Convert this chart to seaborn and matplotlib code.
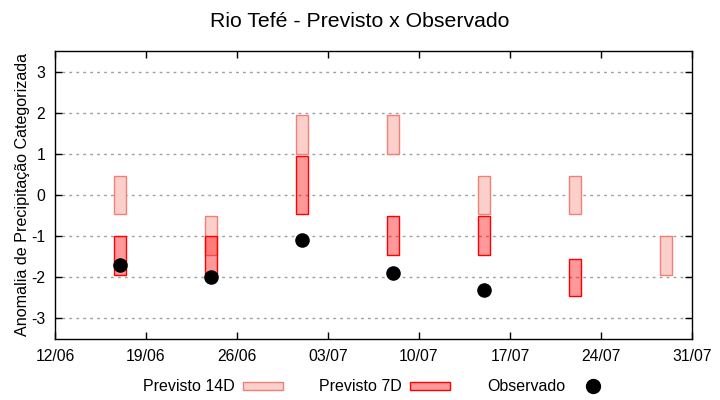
import numpy as np
import pandas as pd
import seaborn as sns
import matplotlib
matplotlib.use("Agg")
import matplotlib.pyplot as plt
import matplotlib.dates as mdates
from matplotlib.patches import Patch
from matplotlib.lines import Line2D

# ───── data ──────────────────────────────────────────────────────────────────
datas = ["2024-06-17", "2024-06-24", "2024-07-01", "2024-07-08",
         "2024-07-15", "2024-07-22", "2024-07-29"]
prev14_baixo = [-0.45, -1.45, 1.0, 1.0, -0.45, -0.45, -1.95]
prev14_alto  = [0.45, -0.5, 1.95, 1.95, 0.45, 0.45, -1.0]
prev7_baixo  = [-1.95, -1.95, -0.45, -1.45, -1.45, -2.45, np.nan]
prev7_alto   = [-1.0, -1.0, 0.95, -0.5, -0.5, -1.55, np.nan]
observado    = [-1.7, -2.0, -1.1, -1.9, -2.3, np.nan, np.nan]
xticks_lbl   = ["2024-06-12", "2024-06-19", "2024-06-26", "2024-07-03",
                "2024-07-10", "2024-07-17", "2024-07-24", "2024-07-31"]

df = pd.DataFrame({"data": pd.to_datetime(datas),
                   "p14_lo": prev14_baixo, "p14_hi": prev14_alto,
                   "p7_lo": prev7_baixo, "p7_hi": prev7_alto,
                   "obs": observado})

# ───── plot ──────────────────────────────────────────────────────────────────
sns.set_style("white")
plt.rcParams["font.family"] = ["Liberation Sans", "DejaVu Sans"]
plt.rcParams["axes.unicode_minus"] = False
plt.rcParams["text.color"] = "black"
plt.rcParams["axes.labelcolor"] = "black"

fig = plt.figure(figsize=(7.2, 4), dpi=100)
ax = fig.add_axes([0.0764, 0.1525, 0.8847, 0.72])

c14_face, c14_edge = "#fcd0ca", "#f08078"
c7_face, c7_edge = (1, 0, 0, 0.4), "red"

ax.bar(df["data"], df["p14_hi"] - df["p14_lo"], bottom=df["p14_lo"], width=0.95,
       color=c14_face, edgecolor=c14_edge, linewidth=1, zorder=2)
ax.bar(df["data"], df["p7_hi"] - df["p7_lo"], bottom=df["p7_lo"], width=0.95,
       color=c7_face, edgecolor=c7_edge, linewidth=1, zorder=3)
sns.scatterplot(data=df, x="data", y="obs", ax=ax, color="black", s=110,
                edgecolor="black", linewidth=0, zorder=4, legend=False)

ax.set_ylim(-3.5, 3.5)
ax.set_yticks(range(-3, 4))
ticks = pd.to_datetime(xticks_lbl)
ax.set_xlim(ticks[0], ticks[-1])
ax.set_xticks(ticks)
ax.xaxis.set_major_formatter(mdates.DateFormatter("%d/%m"))
ax.yaxis.grid(True, color="#a0a0a0", linestyle=(0, (2, 3)), linewidth=1)
ax.xaxis.grid(False)
ax.set_axisbelow(True)

for s in ax.spines.values():
    s.set_color("black")
    s.set_linewidth(1)
ax.tick_params(direction="in", length=5, width=1, colors="black",
               labelsize=11.3, top=True, right=True, left=True, bottom=True, pad=7)
ax.set_xlabel("")
ax.set_ylabel("Anomalia de Precipitação Categorizada", fontsize=11.6, labelpad=1)

fig.suptitle("Rio Tefé - Previsto x Observado", fontsize=15.3, y=0.97)

handles = [Patch(facecolor=c14_face, edgecolor=c14_edge, label="Previsto 14D"),
           Patch(facecolor=c7_face, edgecolor=c7_edge, label="Previsto 7D"),
           Line2D([0], [0], marker="o", color="none", markerfacecolor="black",
                  markeredgecolor="black", markersize=10, label="Observado")]
fig.legend(handles=handles, loc="center", bbox_to_anchor=(0.525, 0.033), ncol=3,
           frameon=False, markerfirst=False, fontsize=11.5, handlelength=2.5,
           handleheight=0.4, handletextpad=0.5, columnspacing=2.3)

fig.savefig("out.png", dpi=100)
